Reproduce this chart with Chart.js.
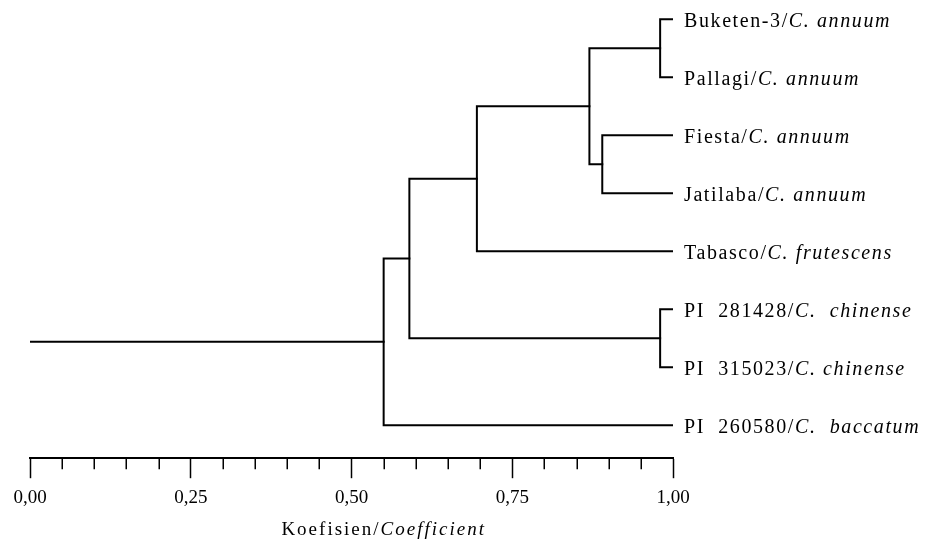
<!DOCTYPE html>
<html lang="en">
<head>
<meta charset="UTF-8">
<title>Dendrogram Capsicum</title>
<script src="https://cdn.jsdelivr.net/npm/chart.js"></script>
<style>
  html, body { margin: 0; padding: 0; background: #fff; }
</style>
</head>
<body>
<canvas id="dendro" width="930" height="546"></canvas>
<script>
// leaves, top to bottom
const leafNames = ['Buketen-3', 'Pallagi', 'Fiesta', 'Jatilaba', 'Tabasco', 'PI  281428', 'PI  315023', 'PI  260580'];
const leafSpecies = ['C. annuum', 'C. annuum', 'C. annuum', 'C. annuum', 'C. frutescens', 'C.  chinense', 'C. chinense', 'C.  baccatum'];

// merges in linkage order: ids 0-7 are leaves, merge k makes cluster 8+k
const mergeLeft = [0, 2, 8, 10, 5, 11, 13];
const mergeRight = [1, 3, 9, 4, 6, 12, 7];
const mergeCoef = [0.98, 0.89, 0.87, 0.695, 0.98, 0.59, 0.55];
const leafCoef = 1.0;
const rootStart = 0.0;

// axis
const tickStep = 0.05;
const majorStep = 0.25;
const axisTitle = ['Koefisien/', 'Coefficient'];

const SERIF = "'Liberation Serif', 'Times New Roman', serif";

// build the tree lines
const nodeX = [], nodeY = [];
leafNames.forEach((n, i) => { nodeX.push(leafCoef); nodeY.push(i); });

function seg(points) {
    return {
        data: points,
        showLine: true,
        borderColor: '#000',
        borderWidth: 2,
        pointRadius: 0,
        tension: 0,
        fill: false,
        borderJoinStyle: 'miter',
        borderCapStyle: 'square'
    };
}

const datasets = [];
mergeCoef.forEach((c, k) => {
    const a = mergeLeft[k], b = mergeRight[k];
    datasets.push(seg([
        { x: nodeX[a], y: nodeY[a] },
        { x: c, y: nodeY[a] },
        { x: c, y: nodeY[b] },
        { x: nodeX[b], y: nodeY[b] }
    ]));
    nodeX.push(c);
    nodeY.push((nodeY[a] + nodeY[b]) / 2);
});
const root = nodeX.length - 1;
datasets.push(seg([{ x: nodeX[root], y: nodeY[root] }, { x: rootStart, y: nodeY[root] }]));

function isMajor(v) {
    const r = v / majorStep;
    return Math.abs(r - Math.round(r)) < 1e-6;
}

function drawMixed(ctx, parts, x, y) {
    parts.forEach(([txt, font]) => {
        ctx.font = font;
        ctx.fillText(txt, x, y);
        x += ctx.measureText(txt).width;
    });
    return x;
}

function mixedWidth(ctx, parts) {
    let w = 0;
    parts.forEach(([txt, font]) => { ctx.font = font; w += ctx.measureText(txt).width; });
    return w;
}

// minor ticks, leaf labels, axis title
const textPlugin = {
    id: 'dendroText',
    afterDraw(chart) {
        const ctx = chart.ctx;
        const xs = chart.scales.x, ys = chart.scales.y;
        ctx.save();

        ctx.strokeStyle = '#000';
        ctx.lineWidth = 1.5;
        xs.ticks.forEach(t => {
            if (isMajor(t.value)) return;
            const px = Math.round(xs.getPixelForValue(t.value)) + 0.25;
            ctx.beginPath();
            ctx.moveTo(px, xs.top);
            ctx.lineTo(px, xs.top + 11);
            ctx.stroke();
        });

        ctx.fillStyle = '#000';
        ctx.textBaseline = 'alphabetic';
        ctx.textAlign = 'left';
        ctx.letterSpacing = '1.6px';
        const lx = xs.getPixelForValue(leafCoef) + 11;
        leafNames.forEach((name, i) => {
            const py = ys.getPixelForValue(i) + 8;
            drawMixed(ctx, [[name + '/', '20px ' + SERIF], [leafSpecies[i], 'italic 20px ' + SERIF]], lx, py);
        });

        ctx.letterSpacing = '2px';
        const parts = [[axisTitle[0], '19px ' + SERIF], [axisTitle[1], 'italic 19px ' + SERIF]];
        const w = mixedWidth(ctx, parts);
        drawMixed(ctx, parts, xs.getPixelForValue(0.55) - w / 2, 535);
        ctx.restore();
    }
};

new Chart(document.getElementById('dendro'), {
    type: 'scatter',
    data: { datasets },
    options: {
        responsive: false,
        animation: false,
        layout: { padding: { left: 30, right: 257, top: 0, bottom: 29 } },
        plugins: { legend: { display: false }, tooltip: { enabled: false } },
        scales: {
            x: {
                type: 'linear',
                position: 'bottom',
                min: 0,
                max: 1,
                grid: {
                    drawOnChartArea: false,
                    drawTicks: true,
                    tickLength: 20,
                    tickWidth: 1.5,
                    tickColor: c => (c.tick && isMajor(c.tick.value)) ? '#000' : 'rgba(0,0,0,0)'
                },
                border: { display: true, color: '#000', width: 2 },
                ticks: {
                    stepSize: tickStep,
                    autoSkip: false,
                    maxRotation: 0,
                    padding: 8,
                    color: '#000',
                    font: { family: SERIF, size: 19 },
                    callback: v => isMajor(v) ? v.toFixed(2).replace('.', ',') : ''
                }
            },
            y: {
                type: 'linear',
                display: false,
                reverse: true,
                min: -0.33,
                max: 7.57
            }
        }
    },
    plugins: [textPlugin]
});
</script>
</body>
</html>
